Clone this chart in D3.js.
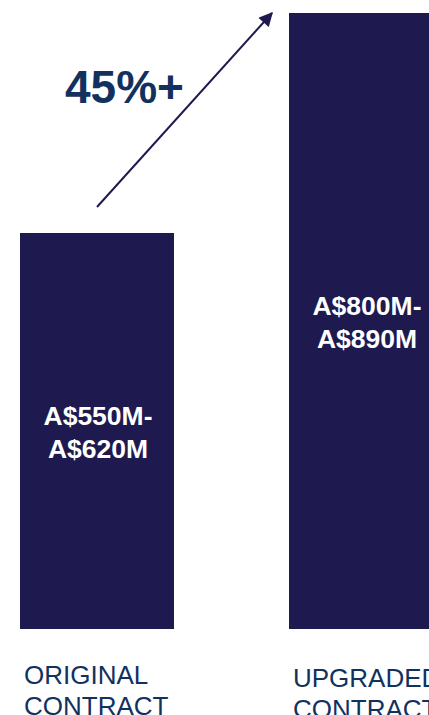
<!DOCTYPE html>
<html>
<head>
<meta charset="utf-8">
<script src="https://cdn.jsdelivr.net/npm/d3@7"></script>
<style>
  html, body { margin: 0; padding: 0; background: #ffffff; overflow: hidden; }
  svg { display: block; font-family: "Liberation Sans", Arial, sans-serif; }
</style>
</head>
<body>
<div id="chart"></div>
<script>
// data
const categories = ['ORIGINAL CONTRACT', 'UPGRADED CONTRACT'];
const lowValues = [550, 800];   // A$ millions, lower end of range
const highValues = [620, 890];  // A$ millions, upper end of range
const growthLabel = '45%+';

const width = 429;
const height = 715;
const barColor = '#1e1a4f';
const textColor = '#12315f';

const svg = d3.select('#chart')
    .append('svg')
    .attr('width', width)
    .attr('height', height);

// band scale runs past the right edge, the second bar is cut off like the original
const xScale = d3.scaleBand()
    .domain(categories)
    .range([20, 443])
    .paddingInner(0.4275)
    .paddingOuter(0);

const yScale = d3.scaleLinear()
    .domain([100, 800])
    .range([629, 13]);

const data = categories.map((c, i) => ({cat: c, lo: lowValues[i], hi: highValues[i]}));

// bars
svg.selectAll('.bar')
    .data(data)
    .enter()
    .append('rect')
    .attr('class', 'bar')
    .attr('x', d => xScale(d.cat))
    .attr('y', d => yScale(d.lo))
    .attr('width', xScale.bandwidth())
    .attr('height', d => yScale(100) - yScale(d.lo))
    .attr('fill', barColor);

// value labels inside bars
const valueLabels = svg.selectAll('.value')
    .data(data)
    .enter()
    .append('text')
    .attr('class', 'value')
    .attr('text-anchor', 'middle')
    .attr('fill', '#ffffff')
    .attr('font-weight', 'bold')
    .attr('font-size', '26.5px');

valueLabels.each(function(d) {
    const cx = xScale(d.cat) + xScale.bandwidth() / 2 + 1;
    const cy = (yScale(d.lo) + yScale(100)) / 2;
    const t = d3.select(this);
    t.append('tspan').attr('x', cx).attr('y', cy - 6).text('A$' + d.lo + 'M-');
    t.append('tspan').attr('x', cx).attr('y', cy + 27).text('A$' + d.hi + 'M');
});

// category labels under bars
const catLabels = svg.selectAll('.cat')
    .data(data)
    .enter()
    .append('text')
    .attr('class', 'cat')
    .attr('fill', textColor)
    .attr('font-size', '26px');

catLabels.each(function(d, i) {
    const x = xScale(d.cat) + 4;
    const base = 684 + i * 3;
    const words = d.cat.split(' ');
    const t = d3.select(this);
    words.forEach((w, j) => {
        t.append('tspan').attr('x', x).attr('y', base + j * 31).text(w);
    });
});

// growth arrow
svg.append('defs')
    .append('marker')
    .attr('id', 'arrowhead')
    .attr('viewBox', '0 0 10 10')
    .attr('refX', 9)
    .attr('refY', 5)
    .attr('markerWidth', 8)
    .attr('markerHeight', 7)
    .attr('orient', 'auto')
    .append('path')
    .attr('d', 'M0,0 L10,5 L0,10 z')
    .attr('fill', barColor);

const x1 = xScale(categories[0]) + xScale.bandwidth() / 2;
const y1 = yScale(lowValues[0]) - 26;
const x2 = xScale(categories[1]) - 17;
const y2 = yScale(lowValues[1]);

svg.append('line')
    .attr('x1', x1)
    .attr('y1', y1)
    .attr('x2', x2)
    .attr('y2', y2)
    .attr('stroke', barColor)
    .attr('stroke-width', 2)
    .attr('marker-end', 'url(#arrowhead)');

svg.append('text')
    .attr('x', 65)
    .attr('y', 103)
    .attr('fill', textColor)
    .attr('font-weight', 'bold')
    .attr('font-size', '46px')
    .text(growthLabel);
</script>
</body>
</html>
